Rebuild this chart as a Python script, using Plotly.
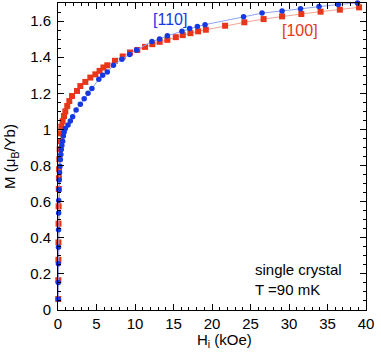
import plotly.graph_objects as go

# [100] direction (red squares)
h_100 = [0.03, 0.04, 0.05, 0.06, 0.07, 0.08, 0.10, 0.12, 0.14, 0.17, 0.22, 0.28,
         0.35, 0.43, 0.60, 0.78, 0.95, 1.2, 1.47, 1.82, 2.47, 2.9, 3.55, 4.2,
         4.85, 5.4, 5.9, 6.4, 7.4, 8.4, 9.35, 10.3, 11.3, 12.25, 13.2, 14.2,
         15.3, 16.2, 17.2, 18.2, 19.2, 21.7, 24.2, 26.7, 29.1, 31.6, 34.1, 36.6, 39.1]
m_100 = [0.061, 0.165, 0.278, 0.374, 0.478, 0.574, 0.67, 0.73, 0.78, 0.835, 0.89, 0.935,
         0.978, 1.015, 1.046, 1.074, 1.10, 1.13, 1.157, 1.185, 1.213, 1.24, 1.263, 1.287,
         1.305, 1.324, 1.343, 1.355, 1.38, 1.404, 1.426, 1.44, 1.457, 1.472, 1.485, 1.496,
         1.511, 1.522, 1.533, 1.543, 1.552, 1.574, 1.593, 1.611, 1.626, 1.639, 1.652, 1.663, 1.676]

# [110] direction (blue circles)
h_110 = [0.03, 0.04, 0.05, 0.06, 0.07, 0.08, 0.09, 0.12, 0.15, 0.2, 0.25, 0.3,
         0.37, 0.43, 0.5, 0.6, 0.7, 0.8, 0.95, 1.3, 1.6, 1.9, 2.35, 2.9,
         3.4, 3.9, 4.4, 5.3, 5.8, 6.4, 7.2, 8.3, 9.3, 10.2, 12.2, 13.2,
         14.2, 16.1, 17.1, 18.1, 19.1, 24.1, 26.5, 29.1, 31.5, 33.9, 36.4, 38.9]
m_110 = [0.06, 0.152, 0.256, 0.348, 0.444, 0.537, 0.606, 0.667, 0.72, 0.76, 0.796, 0.833,
         0.861, 0.889, 0.911, 0.935, 0.963, 0.985, 1.005, 1.025, 1.046, 1.07, 1.107, 1.139,
         1.17, 1.2, 1.226, 1.278, 1.3, 1.318, 1.355, 1.389, 1.415, 1.44, 1.487, 1.5,
         1.518, 1.544, 1.559, 1.57, 1.58, 1.624, 1.644, 1.656, 1.668, 1.68, 1.692, 1.70]

red = "#e8361a"
blue = "#1638e0"

fig = go.Figure()
fig.add_trace(go.Scatter(x=h_100, y=m_100, mode="lines+markers",
                         line=dict(color="#f5a392", width=1),
                         marker=dict(symbol="square", size=6, color=red),
                         cliponaxis=False))
fig.add_trace(go.Scatter(x=h_110, y=m_110, mode="lines+markers",
                         line=dict(color="#8ea3f2", width=1),
                         marker=dict(symbol="circle", size=5.5, color=blue),
                         cliponaxis=False))

fig.add_annotation(x=14.5, y=1.61, text="[110]", showarrow=False,
                   font=dict(color=blue, size=16))
fig.add_annotation(x=31.4, y=1.547, text="[100]", showarrow=False,
                   font=dict(color=red, size=16))
fig.add_annotation(x=25.3, y=0.17, text="single crystal<br>T =90 mK", showarrow=False,
                   xanchor="left", align="left", font=dict(color="black", size=15))
# x-axis title sits a little right of centre in the original
fig.add_annotation(xref="paper", yref="paper", x=0.542, y=-0.098,
                   text="H<sub>i</sub> (kOe)", showarrow=False,
                   yanchor="middle", font=dict(color="black", size=15))

axis = dict(showgrid=False, zeroline=False, showline=True, linecolor="black",
            linewidth=1, mirror="allticks", ticks="inside", ticklen=6,
            tickcolor="black", tickfont=dict(size=15, color="black"),
            automargin=False)

fig.update_xaxes(axis, range=[0, 40], dtick=5,
                 minor=dict(dtick=1, ticks="inside", ticklen=3, tickcolor="black"))
fig.update_yaxes(axis, range=[0, 1.7], dtick=0.2, ticklabelstandoff=3,
                 minor=dict(dtick=0.05, ticks="inside", ticklen=3, tickcolor="black"),
                 title=dict(text="M (μ<sub>B</sub>/Yb)", font=dict(size=15), standoff=10))

fig.update_layout(width=381, height=357, showlegend=False,
                  margin=dict(l=58, r=15, t=3, b=47),
                  plot_bgcolor="white", paper_bgcolor="white",
                  font=dict(family="Liberation Sans, Arial, sans-serif", color="black"))

# drop the page's default body margin so the figure sits at the window's corner
fig.write_html("out.html", config={"displayModeBar": False},
               post_script="document.body.style.margin='0';")
